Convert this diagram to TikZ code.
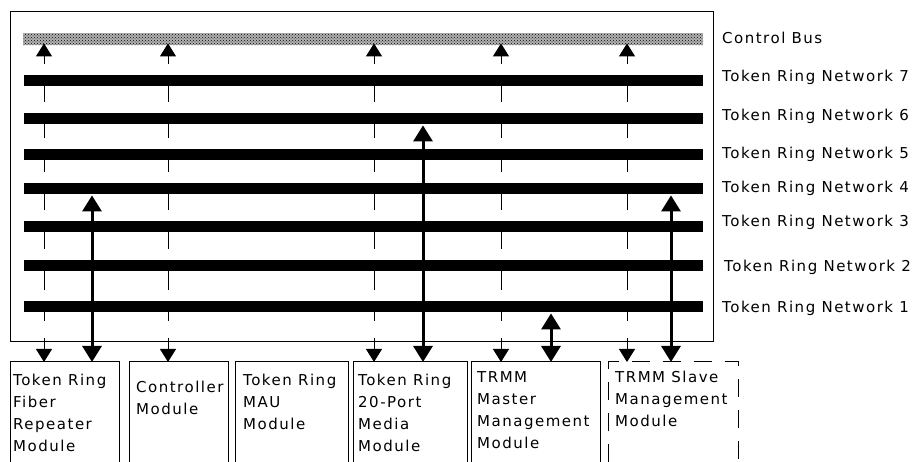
\documentclass[tikz,border=0pt]{standalone}
\usepackage{fontspec}
\usepackage{tikz}
\usetikzlibrary{arrows.meta,patterns}
\newfontfamily\genevafont[LetterSpace=10]{DejaVu Sans}

\tikzset{
  netbar/.style={fill=black,minimum width=679pt,minimum height=11pt,inner sep=0pt,anchor=north west},
  modbox/.style={minimum height=100pt,inner sep=0pt,anchor=north west},
  modtext/.style={anchor=north west,inner sep=0pt,align=left},
  netlabel/.style={anchor=base west,inner sep=0pt},
  feed/.style={line width=1pt,{Triangle[width=16pt,length=13pt]}-{Triangle[width=16pt,length=13pt]}},
  trunk/.style={line width=3pt,{Triangle[width=19pt,length=16pt]}-{Triangle[width=19pt,length=16pt]}},
}

\begin{document}
\begin{tikzpicture}[x=1pt,y=-1pt,font=\genevafont\fontsize{15}{22}\selectfont]
  \useasboundingbox (0,0) rectangle (914,462);

  % chassis, control bus and the seven rings
  \node[draw,line width=1.4pt,minimum width=703pt,minimum height=330pt,inner sep=0pt,anchor=north west] (chassis) at (10,11) {};
  \node[fill=black!30,postaction={pattern=crosshatch dots,pattern color=black},minimum width=680pt,minimum height=12pt,inner sep=0pt,anchor=north west] (bus) at (23,33) {};

  % modules
  \node[modbox,minimum width=109pt] (fiber) at (10,362) {};
  \node[modbox,minimum width=99pt] (ctrl) at (129,362) {};
  \node[modbox,minimum width=113pt] (mau) at (235,362) {};
  \node[modbox,minimum width=114pt] (media) at (353,362) {};
  \node[modbox,minimum width=129pt] (master) at (471,362) {};
  \node[modbox,minimum width=130pt] (slave) at (608,362) {};
  \foreach \m in {fiber,ctrl,mau,media,master}
    \draw[line width=1pt] (\m.south west) -- (\m.north west) -- (\m.north east) -- (\m.south east);
  \draw[line width=1pt,dash pattern=on 18pt off 13pt] (slave.south west) -- (slave.north west) -- (slave.north east) -- (slave.south east);

  % feeds to the control bus
  \foreach \x/\m in {44/fiber,168/ctrl,374/media,501/master,627/slave} {
    \coordinate (feed\m) at (\x,0);
    \draw[feed] (feed\m |- \m.north) -- ([yshift=2pt]feed\m |- bus.south);
  }

  % gaps above the rings
  \foreach \n/\y in {7/75,6/113,5/149,4/183,3/221,2/260,1/301} {
    \node[netbar] (net\n) at (24,\y) {};
    \fill[white] ([yshift=11pt]net\n.north west) rectangle (net\n.north east);
  }
  \fill[white] ([shift={(2,-4)}]chassis.south west) rectangle ([shift={(-2,-21)}]chassis.south east);
  \foreach \n in {1,...,7}
    \node[netbar] at (net\n.north west) {};

  % ring connections
  \coordinate (trfiber) at (92,0);
  \coordinate (trmedia) at (423,0);
  \coordinate (trmaster) at (551,0);
  \coordinate (trslave) at (671,0);
  \draw[trunk] (trfiber |- fiber.north) -- ([yshift=-1pt]trfiber |- net4.south);
  \draw[trunk] (trmedia |- media.north) -- ([yshift=-1pt]trmedia |- net6.south);
  \draw[trunk] (trmaster |- master.north) -- ([yshift=-1pt]trmaster |- net1.south);
  \draw[trunk] (trslave |- slave.north) -- ([yshift=-1pt]trslave |- net4.south);

  % labels
  \node[netlabel] (lblbus) at (722,44) {Control Bus};
  \foreach \n/\y in {7/82,6/121,5/159,4/193,3/227,1/313}
    \node[netlabel] (lbl\n) at (722,\y) {Token Ring Network \n};
  \node[netlabel] (lbl2) at (724,272) {Token Ring Network 2};

  \node[modtext] (fibertxt) at ([shift={(3,12)}]fiber.north west) {Token Ring\\Fiber\\Repeater\\Module};
  \node[modtext] (ctrltxt) at ([shift={(7,19)}]ctrl.north west) {Controller\\Module};
  \node[modtext] (mautxt) at ([shift={(8,12)}]mau.north west) {Token Ring\\MAU\\Module};
  \node[modtext] (mediatxt) at ([shift={(5,12)}]media.north west) {Token Ring\\20-Port\\Media\\Module};
  \node[modtext] (mastertxt) at ([shift={(6,9)}]master.north west) {TRMM\\Master\\Management\\Module};
  \node[modtext] (slavetxt) at ([shift={(7,9)}]slave.north west) {TRMM Slave\\Management\\Module};
\end{tikzpicture}
\end{document}
